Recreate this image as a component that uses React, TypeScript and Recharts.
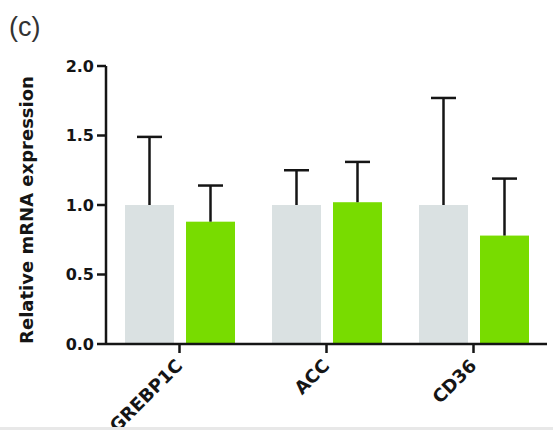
import React from "react";
import { BarChart, Bar, XAxis, YAxis } from "recharts";

const genes = ["GREBP1C", "ACC", "CD36"];
const controlMean = [1.0, 1.0, 1.0];
const controlErr = [0.49, 0.25, 0.77];
const treatedMean = [0.88, 1.02, 0.78];
const treatedErr = [0.26, 0.29, 0.41];
const yTicks = [0, 0.5, 1, 1.5, 2];

const data = genes.map((gene, i) => ({
  gene,
  control: controlMean[i],
  controlErr: controlErr[i],
  treated: treatedMean[i],
  treatedErr: treatedErr[i],
}));

const INK = "#151515";
const FONT = "'DejaVu Sans', sans-serif";

// bar + one-sided (upward) error bar, scaled from the bar's own pixel height
const withErrorBar = (errKey: string) => (props: any) => {
  const { x, y, width, height, fill, payload, value } = props;
  const v = Array.isArray(value) ? value[1] - value[0] : value;
  const unit = v ? height / v : 0;
  const top = y - payload[errKey] * unit;
  const cx = x + width / 2;
  return (
    <g>
      <rect x={x} y={y} width={width} height={height} fill={fill} />
      <line x1={cx} x2={cx} y1={y} y2={top} stroke={INK} strokeWidth={2.5} />
      <line x1={cx - 12.5} x2={cx + 12.5} y1={top} y2={top} stroke={INK} strokeWidth={2.5} />
    </g>
  );
};

const YTick = (p: any) => (
  <text x={p.x} y={p.y} dy="0.36em" textAnchor="end" fontFamily={FONT} fontWeight="bold" fontSize={16} fill={INK}>
    {Number(p.payload.value).toFixed(1)}
  </text>
);

const XTick = (p: any) => (
  <g transform={`translate(${p.x + 4},${p.y + 12})`}>
    <text textAnchor="end" transform="rotate(-45)" fontFamily={FONT} fontWeight="bold" fontSize={18} fill={INK}>
      {p.payload.value}
    </text>
  </g>
);

const YLabel = (p: any) => {
  const vb = p.viewBox || { x: 36, y: 66, height: 278 };
  const lx = vb.x - 3;
  const cy = vb.y + vb.height / 2 + 5;
  return (
    <text x={lx} y={cy} transform={`rotate(-90, ${lx}, ${cy})`} textAnchor="middle" fontFamily={FONT} fontWeight="bold" fontSize={18} fill={INK}>
      Relative mRNA expression
    </text>
  );
};

export default function App() {
  return (
    <div style={{ position: "relative", width: 553, height: 430, overflow: "hidden", background: "#fff" }}>
      <style>{`body{margin:0}`}</style>
      <div style={{ position: "absolute", left: 9, top: 10, fontFamily: "'Liberation Sans', Arial, sans-serif", fontSize: 27, color: "#333", lineHeight: "34px" }}>
        (c)
      </div>
      <BarChart width={553} height={430} data={data} margin={{ top: 66, right: 6, bottom: 6, left: 36 }} barSize={49} barGap={12}>
        <XAxis
          dataKey="gene"
          height={80}
          tickSize={9}
          tickMargin={2}
          tick={<XTick />}
          axisLine={{ stroke: INK, strokeWidth: 2.5 }}
          tickLine={{ stroke: INK, strokeWidth: 2.5 }}
          interval={0}
        />
        <YAxis
          width={70}
          domain={[0, 2]}
          ticks={yTicks}
          tickSize={9}
          tickMargin={3}
          tick={<YTick />}
          axisLine={{ stroke: INK, strokeWidth: 2.5 }}
          tickLine={{ stroke: INK, strokeWidth: 2.5 }}
          label={(lp: any) => <YLabel {...lp} />}
        />
        <Bar dataKey="control" fill="#dae1e2" shape={withErrorBar("controlErr")} isAnimationActive={false} />
        <Bar dataKey="treated" fill="#78dc00" shape={withErrorBar("treatedErr")} isAnimationActive={false} />
      </BarChart>
      <div style={{ position: "absolute", left: 0, top: 427, width: 553, height: 3, background: "#e8e8e8" }} />
    </div>
  );
}
